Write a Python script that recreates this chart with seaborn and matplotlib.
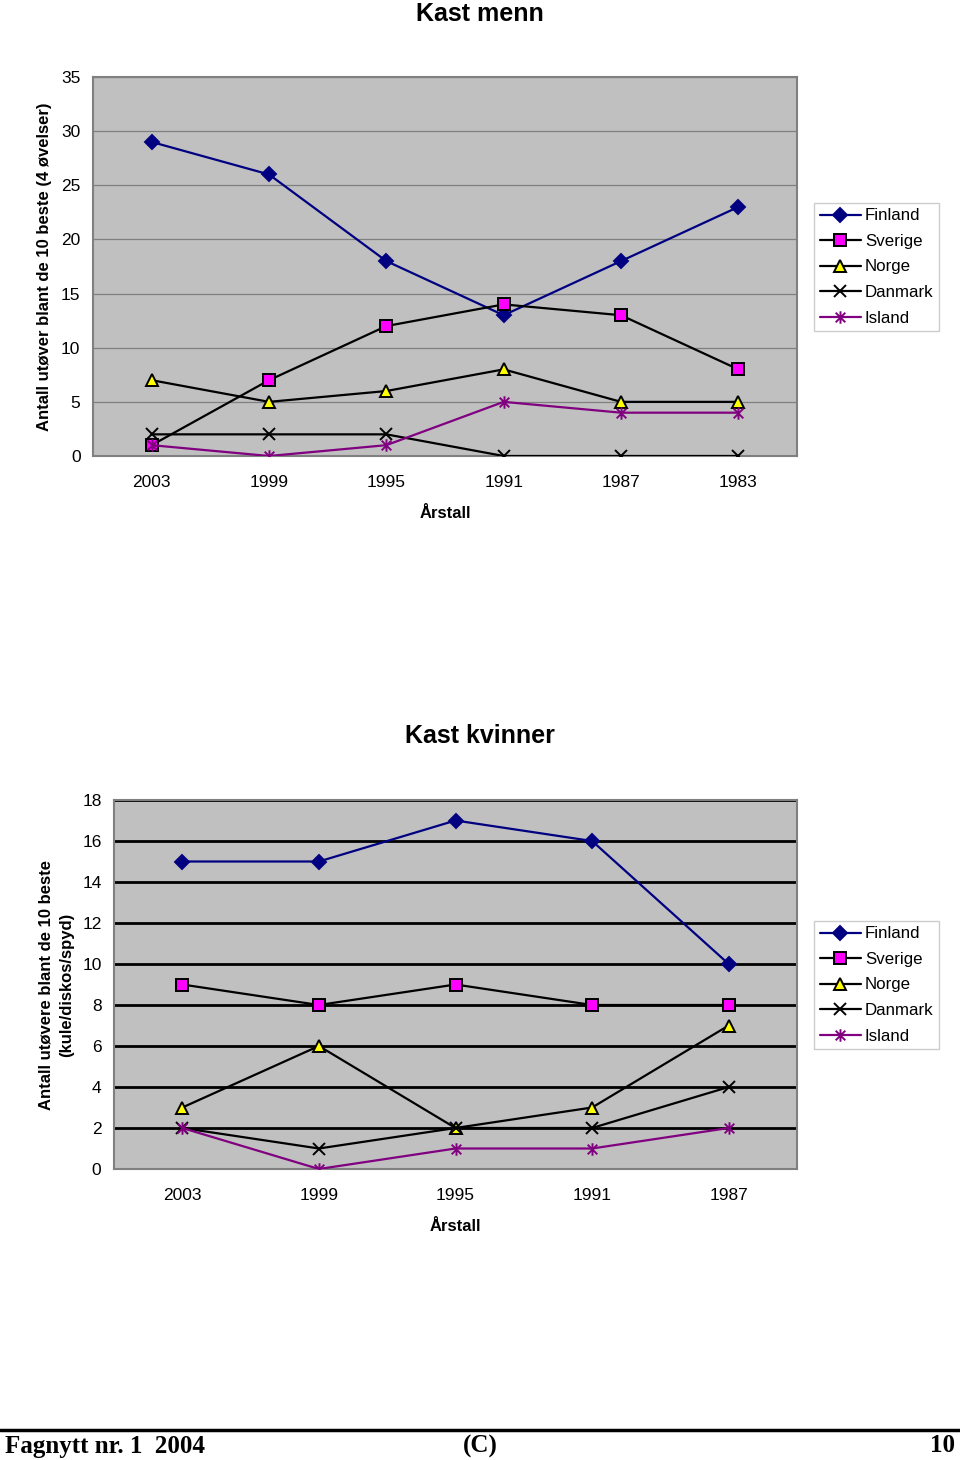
import matplotlib
matplotlib.use("Agg")
import matplotlib.pyplot as plt
import seaborn as sns
import numpy as np
from matplotlib.path import Path
from matplotlib.lines import Line2D

sns.set_theme(style="white")
plt.rcParams['font.family'] = ['Liberation Sans', 'DejaVu Sans']
plt.rcParams['text.color'] = 'black'
plt.rcParams['axes.labelcolor'] = 'black'

# ---------- data ----------
series_names = ["Finland", "Sverige", "Norge", "Danmark", "Island"]

men_years = ["2003", "1999", "1995", "1991", "1987", "1983"]
men_finland = [29, 26, 18, 13, 18, 23]
men_sverige = [1, 7, 12, 14, 13, 8]
men_norge = [7, 5, 6, 8, 5, 5]
men_danmark = [2, 2, 2, 0, 0, 0]
men_island = [1, 0, 1, 5, 4, 4]

women_years = ["2003", "1999", "1995", "1991", "1987"]
women_finland = [15, 15, 17, 16, 10]
women_sverige = [9, 8, 9, 8, 8]
women_norge = [3, 6, 2, 3, 7]
women_danmark = [2, 1, 2, 2, 4]
women_island = [2, 0, 1, 1, 2]

men_yticks = [0, 5, 10, 15, 20, 25, 30, 35]
women_yticks = [0, 2, 4, 6, 8, 10, 12, 14, 16, 18]

# ---------- styles ----------
asterisk = Path([(-1, -1), (1, 1), (-1, 1), (1, -1), (0, -1.3), (0, 1.3)],
                [Path.MOVETO, Path.LINETO, Path.MOVETO, Path.LINETO, Path.MOVETO, Path.LINETO])
styles = {
    "Finland": dict(color="#000080", marker="D", mfc="#000080", mec="#000080", ms=7),
    "Sverige": dict(color="black", marker="s", mfc="#FF00FF", mec="black", ms=8),
    "Norge": dict(color="black", marker="^", mfc="#FFFF00", mec="black", ms=8),
    "Danmark": dict(color="black", marker="x", mfc="black", mec="black", ms=8),
    "Island": dict(color="#800080", marker=asterisk, mfc="#800080", mec="#800080", ms=9),
}

W, H = 960, 1460
fig = plt.figure(figsize=(W / 100, H / 100), dpi=100)


def px_axes(l, t, r, b):
    return fig.add_axes([l / W, 1 - b / H, (r - l) / W, (b - t) / H])


def draw_chart(ax, years, data, yticks, grid_color, grid_lw, title, title_y, ylabel,
               ylabel_x, legend_center_y):
    ax.set_facecolor("#C0C0C0")
    for name, vals in zip(series_names, data):
        st = styles[name]
        sns.lineplot(x=years, y=vals, ax=ax, color=st["color"], lw=1.6,
                     marker=st["marker"], markerfacecolor=st["mfc"],
                     markeredgecolor=st["mec"], markersize=st["ms"],
                     markeredgewidth=1.4, label=name, sort=False, legend=False,
                     zorder=3)
    n = len(years)
    ax.set_xlim(-0.5, n - 0.5)
    ax.set_ylim(yticks[0], yticks[-1])
    ax.set_yticks(yticks)
    ax.set_yticklabels([str(v) for v in yticks])
    ax.set_xticks(range(n))
    ax.set_xticklabels(years)
    ax.set_xticks(np.arange(-0.5, n, 1.0), minor=True)
    ax.tick_params(axis="x", which="major", length=0, pad=13.5, labelsize=12.5, colors="black")
    ax.tick_params(axis="x", which="minor", length=5, width=1, color="#808080", direction="out")
    ax.tick_params(axis="y", which="major", length=5, width=1, color="#808080",
                   direction="out", pad=4, labelsize=12.5, labelcolor="black")
    ax.grid(False)
    ax.yaxis.grid(True, color=grid_color, lw=grid_lw, zorder=1)
    ax.set_axisbelow(True)
    for s in ax.spines.values():
        s.set_visible(True)
        s.set_color("#808080")
        s.set_linewidth(1.5)
    ax.set_xlabel("Årstall", fontsize=12, fontweight="bold", labelpad=12)
    ax.set_ylabel(ylabel, fontsize=12, fontweight="bold", linespacing=1.45)
    ax.yaxis.set_label_coords(ylabel_x, 0.5)
    fig.text(0.5, 1 - title_y / H, title, ha="center", va="center",
             fontsize=18, fontweight="bold")
    handles = [Line2D([0], [0], color=styles[nm]["color"], lw=1.6,
                      marker=styles[nm]["marker"], markerfacecolor=styles[nm]["mfc"],
                      markeredgecolor=styles[nm]["mec"], markersize=styles[nm]["ms"],
                      markeredgewidth=1.4) for nm in series_names]
    leg = fig.legend(handles, series_names, loc="center left",
                     bbox_to_anchor=(814 / W, 1 - legend_center_y / H),
                     bbox_transform=fig.transFigure, frameon=True, fancybox=False,
                     edgecolor="#C0C0C0", fontsize=12.2, handlelength=2.4,
                     handletextpad=0.25, labelspacing=0.62, borderpad=0.35,
                     borderaxespad=0)
    leg.get_frame().set_linewidth(1.0)


ax1 = px_axes(93, 77, 797, 456)
draw_chart(ax1, men_years,
           [men_finland, men_sverige, men_norge, men_danmark, men_island],
           men_yticks, "#808080", 0.9, "Kast menn", 14,
           "Antall utøver blant de 10 beste (4 øvelser)", -0.058, 267)

ax2 = px_axes(114, 800, 797, 1169)
draw_chart(ax2, women_years,
           [women_finland, women_sverige, women_norge, women_danmark, women_island],
           women_yticks, "black", 2.0, "Kast kvinner", 736,
           "Antall utøvere blant de 10 beste\n(kule/diskos/spyd)", -0.059, 985)

# footer
fig.add_artist(Line2D([0, 1], [1 - 1430 / H, 1 - 1430 / H], color="black", lw=2.5,
                      transform=fig.transFigure))
foot_y = 1 - 1446 / H
fig.text(5 / W, foot_y, "Fagnytt nr. 1  2004", ha="left", va="center",
         family="Liberation Serif", fontweight="bold", fontsize=18)
fig.text(0.5, foot_y, "(C)", ha="center", va="center",
         family="Liberation Serif", fontweight="bold", fontsize=18)
fig.text(955 / W, foot_y, "10", ha="right", va="center",
         family="Liberation Serif", fontweight="bold", fontsize=18)

fig.savefig("out.png", dpi=100, facecolor="white")
